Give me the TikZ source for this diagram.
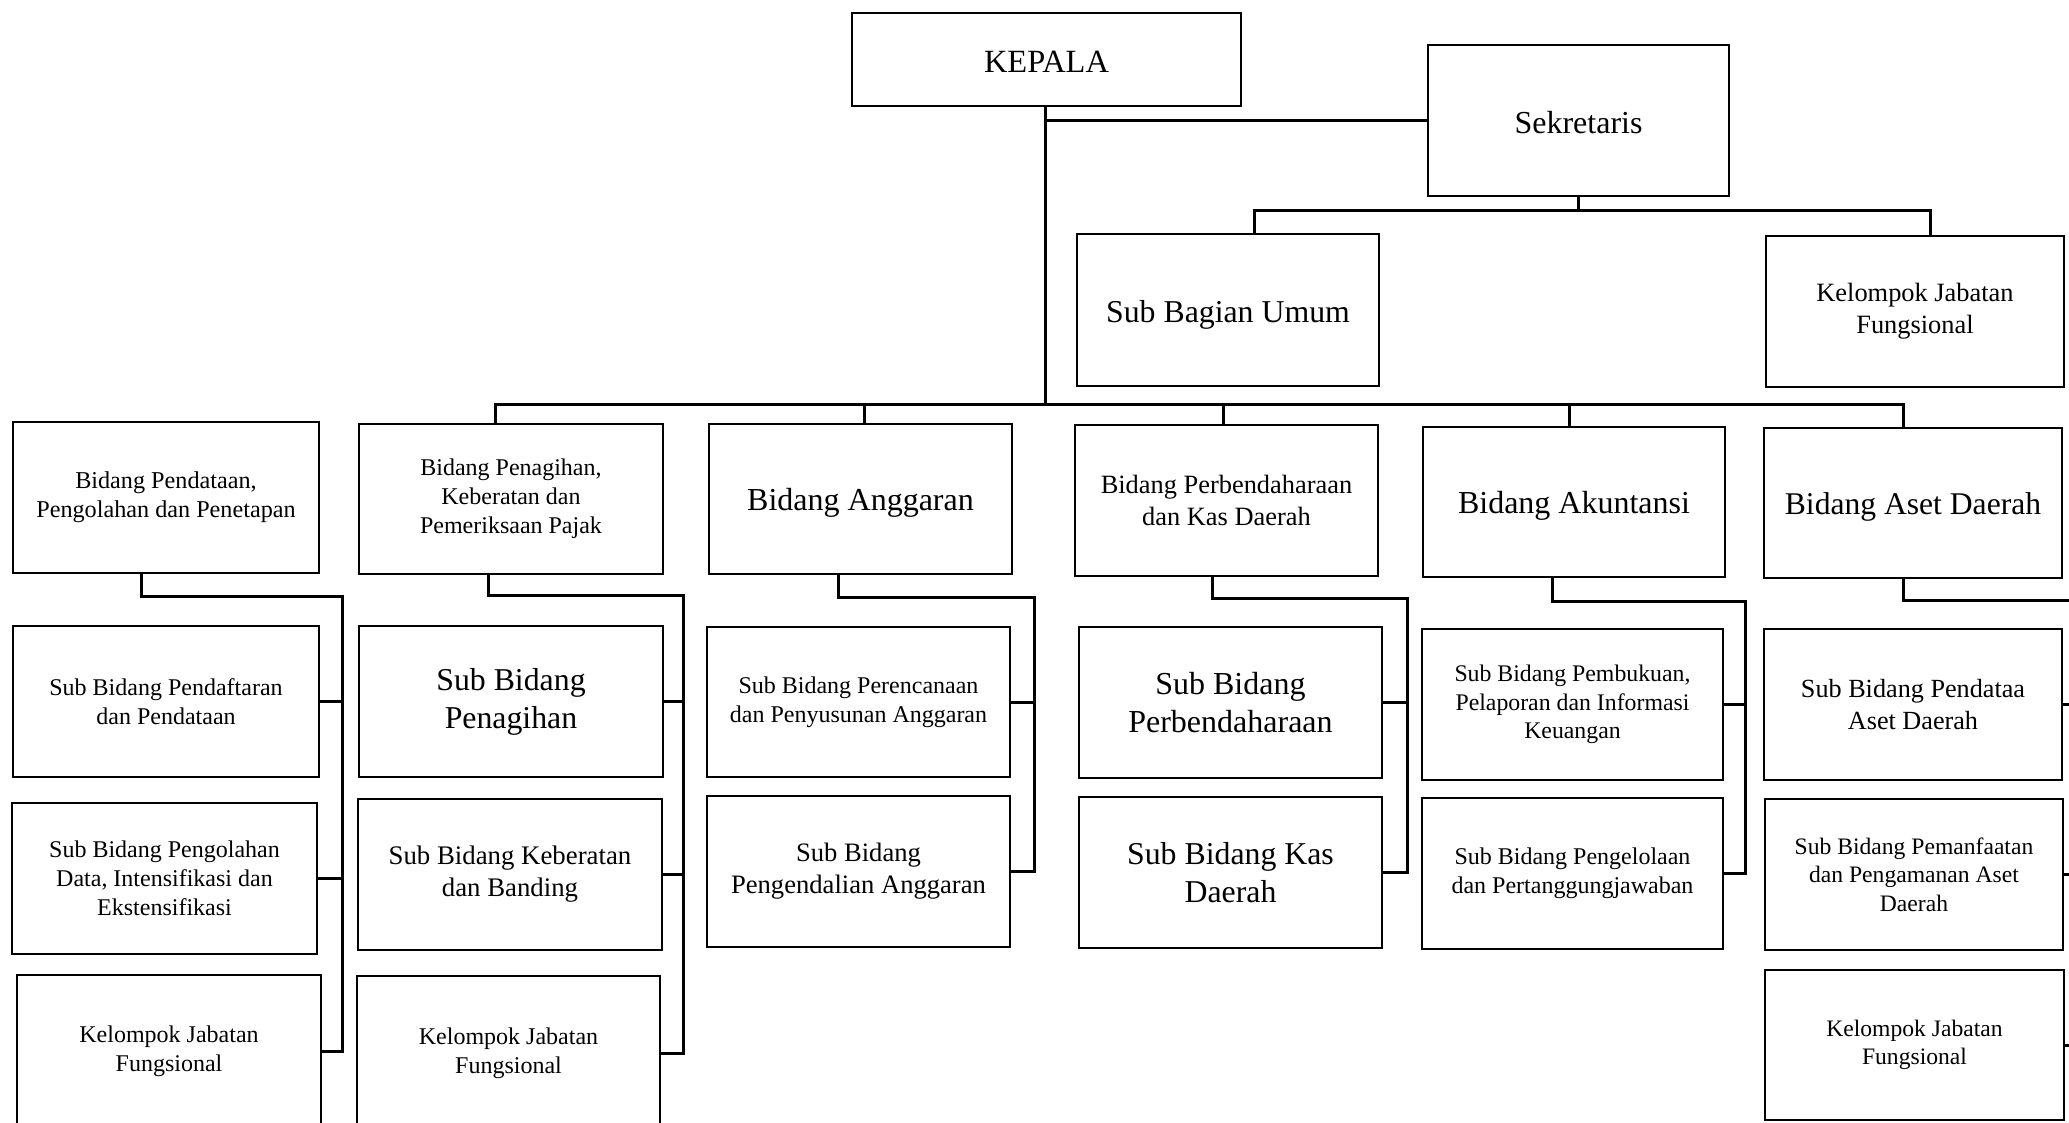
\documentclass[tikz,border=0pt]{standalone}
\usepackage{fontspec}
\setmainfont{Liberation Serif}
\tikzset{
  obox/.style={draw, line width=1.2pt, inner sep=0pt, align=center, fill=white},
  conn/.style={line width=1.5pt, line cap=rect},
}
% name, x1, y1, x2, y2, font size (pt), text
\newcommand\ob[7]{%
  \node[obox,
    minimum width=\dimexpr(#4pt-#2pt)/2\relax,
    minimum height=\dimexpr(#5pt-#3pt)/2\relax,
    font=\fontsize{#6}{\dimexpr #6pt*6/5\relax}\selectfont]
    (#1) at ({(#2+#4)/2},{(#3+#5)/2}) {#7};}
% lower a single line of text without changing its box
\newcommand\dn[2]{\raisebox{-#1pt}[\height][\depth]{#2}}
\begin{document}
\begin{tikzpicture}[x=0.5pt, y=-0.5pt]
\useasboundingbox (0,0) rectangle (2069,1123);
\clip (0,0) rectangle (2069,1123);
\fill[white] (0,0) rectangle (2069,1123);

% top level
\ob{kepala}{852}{13}{1241}{106}{16.2}{\dn{1}{KEPALA}}
\ob{sek}{1428}{45}{1729}{196}{16}{\dn{1}{Sekretaris}}
\ob{sbu}{1077}{234}{1379}{386}{15.9}{\dn{2.5}{Sub Bagian Umum}}
\ob{kjf0}{1766}{236}{2064}{387}{13.2}{Kelompok Jabatan\\Fungsional}

% bidang row
\ob{B1}{13}{422}{319}{573}{12.1}{Bidang Pendataan,\\Pengolahan dan Penetapan}
\ob{B2}{359}{424}{663}{574}{12}{Bidang Penagihan,\\Keberatan dan\\Pemeriksaan Pajak}
\ob{B3}{709}{424}{1012}{574}{16}{\dn{2}{Bidang Anggaran}}
\ob{B4}{1075}{425}{1378}{576}{13.2}{Bidang Perbendaharaan\\dan Kas Daerah}
\ob{B5}{1423}{427}{1725}{577}{16}{\dn{2}{Bidang Akuntansi}}
\ob{B6}{1764}{428}{2062}{578}{15.8}{\dn{2}{Bidang Aset Daerah}}

% sub bidang
\ob{C1a}{13}{626}{319}{777}{12}{Sub Bidang Pendaftaran\\dan Pendataan}
\ob{C1b}{12}{803}{317}{954}{12}{Sub Bidang Pengolahan\\Data, Intensifikasi dan\\Ekstensifikasi}
\ob{C1c}{17}{975}{321}{1128}{12}{Kelompok Jabatan\\Fungsional}
\ob{C2a}{359}{626}{663}{777}{15.9}{Sub Bidang\\Penagihan}
\ob{C2b}{358}{799}{662}{950}{13.4}{Sub Bidang Keberatan\\dan Banding}
\ob{C2c}{357}{976}{660}{1130}{12}{Kelompok Jabatan\\Fungsional}
\ob{C3a}{707}{627}{1010}{777}{12}{Sub Bidang Perencanaan\\dan Penyusunan Anggaran}
\ob{C3b}{707}{796}{1010}{947}{13.3}{Sub Bidang\\Pengendalian Anggaran}
\ob{C4a}{1079}{627}{1382}{778}{16}{Sub Bidang\\Perbendaharaan}
\ob{C4b}{1079}{797}{1382}{948}{15.9}{Sub Bidang Kas\\Daerah}
\ob{C5a}{1422}{629}{1723}{780}{11.9}{Sub Bidang Pembukuan,\\Pelaporan dan Informasi\\Keuangan}
\ob{C5b}{1422}{798}{1723}{949}{12}{Sub Bidang Pengelolaan\\dan Pertanggungjawaban}
\ob{C6a}{1764}{629}{2062}{780}{13.1}{Sub Bidang Pendataa\\Aset Daerah}
\ob{C6b}{1765}{799}{2063}{950}{11.8}{Sub Bidang Pemanfaatan\\dan Pengamanan Aset\\Daerah}
\ob{C6c}{1765}{970}{2064}{1120}{11.8}{Kelompok Jabatan\\Fungsional}

% coordinates
\coordinate (kx) at (1045,0);
\coordinate (bus) at (0,405);
\coordinate (busL) at (495,405);
\coordinate (busR) at (1903,405);
\coordinate (d3) at (864,405);
\coordinate (d4) at (1223,405);
\coordinate (d5) at (1569,405);
\coordinate (sbL) at (1254,211);
\coordinate (sbR) at (1930,211);

% kepala trunk
\draw[conn] (kepala.south -| kx) -- (kx |- bus);
\draw[conn] (kx |- sek.west) -- (sek.west);
% sekretaris
\draw[conn] (sek.south) -- (sek.south |- sbL);
\draw[conn] (sbu.north -| sbL) -- (sbL) -- (sbR) -- (kjf0.north -| sbR);
% bus
\draw[conn] (B2.north -| busL) -- (busL) -- (busR) -- (B6.north -| busR);
\draw[conn] (d3) -- (B3.north -| d3);
\draw[conn] (d4) -- (B4.north -| d4);
\draw[conn] (d5) -- (B5.north -| d5);

% group 1
\coordinate (g1t) at (141,596); \coordinate (g1v) at (342,596);
\draw[conn] (B1.south -| g1t) -- (g1t) -- (g1v) -- (g1v |- C1c.east) -- (C1c.east);
\draw[conn] (C1a.east) -- (C1a.east -| g1v);
\draw[conn] (C1b.east) -- (C1b.east -| g1v);
% group 2
\coordinate (g2t) at (488,595); \coordinate (g2v) at (683,595);
\draw[conn] (B2.south -| g2t) -- (g2t) -- (g2v) -- (g2v |- C2c.east) -- (C2c.east);
\draw[conn] (C2a.east) -- (C2a.east -| g2v);
\draw[conn] (C2b.east) -- (C2b.east -| g2v);
% group 3
\coordinate (g3t) at (838,597); \coordinate (g3v) at (1034,597);
\draw[conn] (B3.south -| g3t) -- (g3t) -- (g3v) -- (g3v |- C3b.east) -- (C3b.east);
\draw[conn] (C3a.east) -- (C3a.east -| g3v);
% group 4
\coordinate (g4t) at (1212,598); \coordinate (g4v) at (1407,598);
\draw[conn] (B4.south -| g4t) -- (g4t) -- (g4v) -- (g4v |- C4b.east) -- (C4b.east);
\draw[conn] (C4a.east) -- (C4a.east -| g4v);
% group 5
\coordinate (g5t) at (1552,601); \coordinate (g5v) at (1745,601);
\draw[conn] (B5.south -| g5t) -- (g5t) -- (g5v) -- (g5v |- C5b.east) -- (C5b.east);
\draw[conn] (C5a.east) -- (C5a.east -| g5v);
% group 6 (bar lies beyond the right edge)
\coordinate (g6t) at (1903,600); \coordinate (g6v) at (2082,600);
\draw[conn] (B6.south -| g6t) -- (g6t) -- (g6v) -- (g6v |- C6c.east) -- (C6c.east);
\draw[conn] (C6a.east) -- (C6a.east -| g6v);
\draw[conn] (C6b.east) -- (C6b.east -| g6v);
\end{tikzpicture}
\end{document}
